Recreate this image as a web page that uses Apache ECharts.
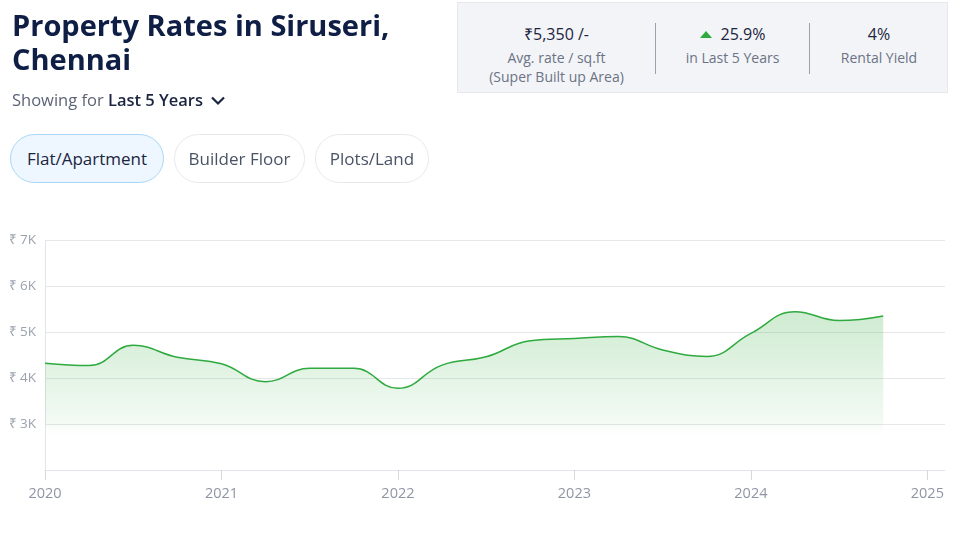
<!DOCTYPE html>
<html>
<head>
<meta charset="utf-8">
<script src="https://cdn.jsdelivr.net/npm/echarts@6/dist/echarts.min.js"></script>
<style>
    body { margin: 0; width: 961px; height: 533px; position: relative; font-family: "Open Sans", sans-serif; background: #fff; overflow: hidden; }
    #chart { position: absolute; left: 0; top: 0; width: 961px; height: 533px; }
    .title { position: absolute; left: 12px; top: 8px; font-size: 29px; font-weight: 700; line-height: 34px; color: #0e1e45; }
    .showing { position: absolute; left: 12px; top: 88px; font-size: 16.5px; color: #5b6476; }
    .showing b { color: #1b2540; font-weight: 600; }
    .pill { position: absolute; top: 134px; height: 49px; border: 1px solid #e6e8ec; border-radius: 25px; box-sizing: border-box; font-size: 17px; color: #4a5366; line-height: 47px; text-align: center; }
    .pill.on { background: #eef7ff; border-color: #a8d6f7; color: #1b2540; }
    .stats { position: absolute; left: 457px; top: 2px; width: 491px; height: 91px; background: #f3f4f7; border: 1px solid #e6e8ec; box-sizing: border-box; }
    .col { position: absolute; top: 20px; text-align: center; }
    .col .v { font-size: 16px; color: #1b2540; line-height: 22px; }
    .col .l { font-size: 14px; color: #6b7385; line-height: 19px; margin-top: 3px; }
    .sep { position: absolute; top: 20px; width: 1px; height: 51px; background: #9aa1ad; }
    .tri { display: inline-block; width: 0; height: 0; border-left: 6px solid transparent; border-right: 6px solid transparent; border-bottom: 7px solid #2eaa3f; margin-right: 9px; vertical-align: 2px; }
</style>
</head>
<body>
<div id="chart"></div>
<div class="title">Property Rates in Siruseri,<br>Chennai</div>
<div class="showing">Showing for <b>Last 5 Years</b>
    <svg width="16" height="11" style="margin-left:3px" viewBox="0 0 16 11"><path d="M2 2.5 L8 8.5 L14 2.5" fill="none" stroke="#1b2540" stroke-width="2.2"/></svg>
</div>
<div class="pill on" style="left:10px;width:154px">Flat/Apartment</div>
<div class="pill" style="left:174px;width:131px">Builder Floor</div>
<div class="pill" style="left:315px;width:114px">Plots/Land</div>
<div class="stats">
    <div class="col" style="left:0;width:197px"><div class="v">₹5,350 /-</div><div class="l">Avg. rate / sq.ft<br>(Super Built up Area)</div></div>
    <div class="sep" style="left:197px"></div>
    <div class="col" style="left:198px;width:153px"><div class="v"><span class="tri"></span>25.9%</div><div class="l">in Last 5 Years</div></div>
    <div class="sep" style="left:351px"></div>
    <div class="col" style="left:352px;width:138px"><div class="v">4%</div><div class="l">Rental Yield</div></div>
</div>
<script>
    // quarters as decimal years
    var periods = [2020, 2020.25, 2020.5, 2020.75, 2021, 2021.25, 2021.5, 2021.75, 2022, 2022.25,
        2022.5, 2022.75, 2023, 2023.25, 2023.5, 2023.75, 2024, 2024.25, 2024.5, 2024.75];
    var rates = [4320, 4270, 4710, 4450, 4310, 3920, 4210, 4210, 3775, 4280,
        4460, 4810, 4860, 4900, 4610, 4470, 4970, 5440, 5250, 5350];
    var yearTicks = [2020, 2021, 2022, 2023, 2024, 2025];
    var rateTicks = [3000, 4000, 5000, 6000, 7000];

    var seriesData = [];
    periods.forEach(function (p, i) {
        seriesData.push([p, rates[i]]);
    });

    var myChart = echarts.init(document.getElementById('chart'));
    var option = {
        animation: false,
        grid: {
            left: 45,
            right: 16,
            top: 240,
            bottom: 63,
            containLabel: false
        },
        xAxis: {
            type: 'value',
            min: 2020,
            max: 2025.1,
            splitLine: { show: false },
            axisLine: { show: true, lineStyle: { color: '#e3e5ea' } },
            axisTick: {
                show: true,
                length: 10,
                customValues: yearTicks,
                lineStyle: { color: '#d5d8de' }
            },
            axisLabel: {
                customValues: yearTicks,
                margin: 16,
                color: '#8e96a6',
                fontSize: 14.5,
                fontFamily: 'Open Sans',
                formatter: function (v) { return String(v); }
            }
        },
        yAxis: {
            type: 'value',
            min: 2000,
            max: 7000,
            interval: 1000,
            axisLine: { show: true, lineStyle: { color: '#e3e5ea' } },
            axisTick: { show: false },
            splitLine: { lineStyle: { color: '#e6e7eb' } },
            axisLabel: {
                margin: 9,
                color: '#9ba2af',
                fontSize: 13.5,
                fontFamily: 'Open Sans',
                formatter: function (v) {
                    return rateTicks.indexOf(v) >= 0 ? '₹ ' + (v / 1000) + 'K' : '';
                }
            }
        },
        series: [{
            type: 'line',
            data: seriesData,
            smooth: 0.45,
            showSymbol: false,
            lineStyle: { color: '#2eaa3f', width: 1.5 },
            areaStyle: {
                opacity: 1,
                color: {
                    type: 'linear', x: 0, y: 0, x2: 0, y2: 1,
                    colorStops: [
                        { offset: 0, color: 'rgba(60,176,70,0.25)' },
                        { offset: 0.7, color: 'rgba(60,176,70,0.06)' },
                        { offset: 0.8, color: 'rgba(255,255,255,0)' },
                        { offset: 1, color: 'rgba(255,255,255,0)' }
                    ]
                }
            }
        }]
    };
    myChart.setOption(option);
</script>
</body>
</html>
